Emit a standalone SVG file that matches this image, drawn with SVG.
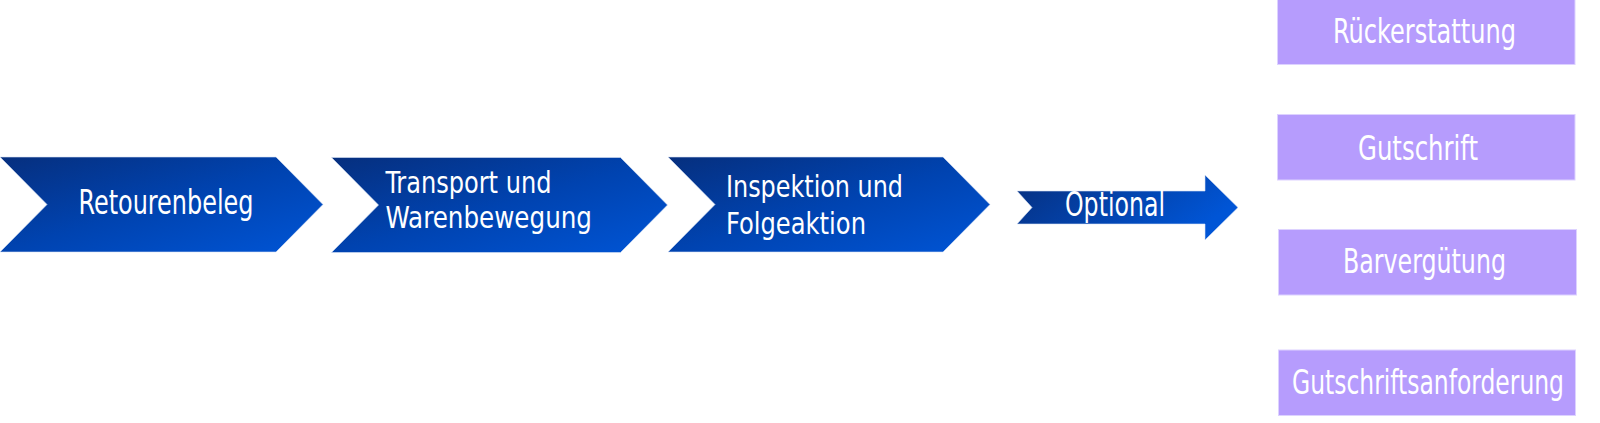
<svg xmlns="http://www.w3.org/2000/svg" width="1600" height="423" viewBox="0 0 1600 423">
<style>
.t{font-family:"Liberation Sans Narrow","DejaVu Sans Condensed","Liberation Sans",sans-serif;fill:#ffffff;font-size:34px}
.t2{font-size:30px}
.box{fill:#b69cfd;stroke:#ddd2ff;stroke-width:1}
.chev{stroke:#d8e2f5;stroke-width:0.6}
</style>
<defs>
<linearGradient id="g" x1="0" y1="0" x2="1" y2="1">
<stop offset="0" stop-color="#062f7e"/>
<stop offset="0.5" stop-color="#0043b0"/>
<stop offset="1" stop-color="#0055d6"/>
</linearGradient>
<linearGradient id="g2" x1="0" y1="0" x2="1" y2="0.4">
<stop offset="0" stop-color="#062f7e"/>
<stop offset="1" stop-color="#0055d6"/>
</linearGradient>
</defs>
<g id="connectors"></g>
<g id="n-retourenbeleg">
<path class="chev" fill="url(#g)" d="M0,157 L276,157 L323,204.5 L276,252 L0,252 L47,204.5 Z"/>
<text class="t" x="78.5" y="214" font-size="36" textLength="175" lengthAdjust="spacingAndGlyphs">Retourenbeleg</text>
</g>
<g id="n-transport">
<path class="chev" fill="url(#g)" d="M331.5,157.5 L620.5,157.5 L667.5,205 L620.5,252.5 L331.5,252.5 L378.5,205 Z"/>
<text class="t t2" x="385.5" y="193" textLength="166" lengthAdjust="spacingAndGlyphs">Transport und</text>
<text class="t t2" x="385.5" y="228" textLength="206.5" lengthAdjust="spacingAndGlyphs">Warenbewegung</text>
</g>
<g id="n-inspektion">
<path class="chev" fill="url(#g)" d="M668,157 L943,157 L990,204.5 L943,252 L668,252 L715,204.5 Z"/>
<text class="t t2" x="726" y="196.5" textLength="177" lengthAdjust="spacingAndGlyphs">Inspektion und</text>
<text class="t t2" x="726" y="234" textLength="140" lengthAdjust="spacingAndGlyphs">Folgeaktion</text>
</g>
<g id="n-optional">
<path class="chev" fill="url(#g2)" d="M1017,191 L1205,191 L1205,175 L1238,207.5 L1205,240 L1205,224 L1017,224 L1032,207.5 Z"/>
<text class="t" x="1065" y="215.7" font-size="33" textLength="100" lengthAdjust="spacingAndGlyphs">Optional</text>
</g>
<g id="n-rueckerstattung">
<rect class="box" x="1277.5" y="-1" width="297.5" height="65.5"/>
<text class="t" x="1333" y="43.3" textLength="183" lengthAdjust="spacingAndGlyphs">Rückerstattung</text>
</g>
<g id="n-gutschrift">
<rect class="box" x="1277.5" y="114.5" width="297.5" height="65.5"/>
<text class="t" x="1358" y="159.5" textLength="120" lengthAdjust="spacingAndGlyphs">Gutschrift</text>
</g>
<g id="n-barverguetung">
<rect class="box" x="1278.5" y="229.5" width="298" height="65.5"/>
<text class="t" x="1343" y="273.3" textLength="163" lengthAdjust="spacingAndGlyphs">Barvergütung</text>
</g>
<g id="n-gutschriftsanforderung">
<rect class="box" x="1278.5" y="350" width="297" height="65.5"/>
<text class="t" x="1292" y="394" textLength="272" lengthAdjust="spacingAndGlyphs">Gutschriftsanforderung</text>
</g>
</svg>
